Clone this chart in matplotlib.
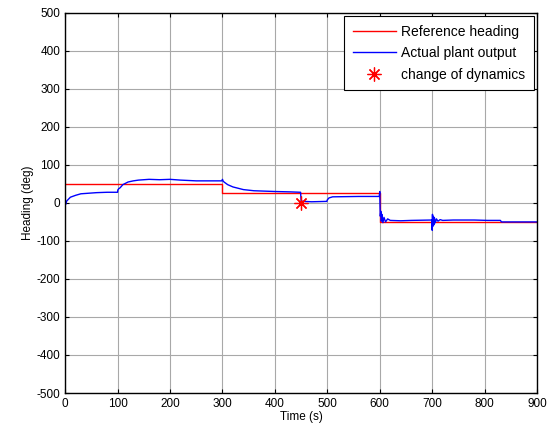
import numpy as np
import matplotlib.pyplot as plt

plt.rcParams['font.family'] = ['Liberation Sans', 'DejaVu Sans']
plt.rcParams['axes.unicode_minus'] = False

# reference heading (step changes)
ref_t = [0, 300, 300, 600, 600, 900]
ref_y = [50, 50, 25, 25, -50, -50]

# actual plant output
out_t = [0, 1, 3, 10, 20, 30, 40, 60, 80, 100,
         100.5, 102, 105, 110, 120, 130, 140, 160, 180, 200, 220, 250, 280, 299,
         300, 301, 303, 310, 320, 340, 360, 400, 430, 449,
         450, 455, 470, 499, 500, 503, 510, 560, 599,
         600, 600.5, 601, 602, 603, 604, 606, 608, 611, 615, 620, 640, 660, 699,
         700, 700.5, 701, 702, 703, 704, 706, 708, 711, 715, 720, 740, 780, 805, 830,
         832, 860, 900]
out_y = [0, -4, 5, 15, 20, 24, 25, 27, 28, 28,
         34, 37, 40, 48, 55, 58, 60, 62, 61, 62, 60, 58, 58, 58,
         62, 58, 55, 48, 42, 35, 32, 30, 29, 28,
         5, 4, 3, 4, 8, 13, 16, 17, 17,
         30, -10, -35, -22, -48, -30, -52, -38, -50, -42, -46, -47, -46, -45,
         -72, -30, -62, -35, -58, -38, -52, -42, -48, -44, -46, -45, -45, -46, -46,
         -50, -50, -50]

# change of dynamics marker
chg_t = [450]
chg_y = [0]

fig = plt.figure(figsize=(5.52, 4.36), dpi=100)
ax = fig.add_axes([0.118, 0.0986, 0.855, 0.872])

ax.plot(ref_t, ref_y, color='red', lw=1.0, label='Reference heading')
ax.plot(out_t, out_y, color='blue', lw=1.0, label='Actual plant output')
ax.plot(chg_t, chg_y, ls='none', marker=(8, 2, 0), ms=10, mew=0.9,
        color='red', label='change of dynamics')

ax.set_xlim(0, 900)
ax.set_ylim(-500, 500)
ax.set_xticks(np.arange(0, 901, 100))
ax.set_yticks(np.arange(-500, 501, 100))
ax.grid(True, color='#a8a8a8', ls='-', lw=0.8)
ax.tick_params(direction='in', top=True, right=True, labelsize=8.5, length=3)
for s in ax.spines.values():
    s.set_linewidth(1.0)

ax.set_xlabel('Time (s)', fontsize=8.5, labelpad=1)
ax.set_ylabel('Heading (deg)', fontsize=8.5, labelpad=2)

leg = ax.legend(loc='upper right', fontsize=10, fancybox=False, framealpha=1,
                edgecolor='black', borderaxespad=0.25, handlelength=3.1,
                handletextpad=0.4, borderpad=0.6, labelspacing=0.55)
leg.get_frame().set_linewidth(0.8)

fig.savefig('out.png', dpi=100)
